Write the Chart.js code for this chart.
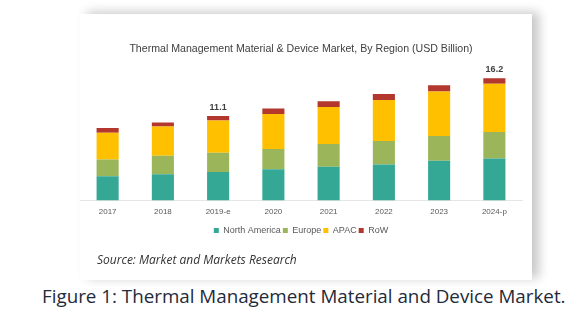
<!DOCTYPE html>
<html>
<head>
<meta charset="utf-8">
<script src="https://cdn.jsdelivr.net/npm/chart.js@4.4.1/dist/chart.umd.min.js"></script>
<style>
    html, body { margin: 0; padding: 0; background: #fff; }
    body { width: 587px; height: 313px; position: relative; overflow: hidden; }
    .card {
        position: absolute; left: 80px; top: 14px; width: 452px; height: 266px;
        background: #fff;
        box-shadow: 7px -2px 10px rgba(0,0,0,0.22);
    }
    .chart-box { position: absolute; left: 0; top: 0; width: 452px; height: 240px; }
    .source {
        position: absolute; left: 17px; top: 237px;
        font-family: "Open Sans", sans-serif; font-style: italic;
        font-size: 12px; color: #333;
    }
    .caption {
        position: absolute; left: 42px; top: 283px;
        font-family: "Open Sans", sans-serif; font-size: 18.8px; color: #1f2a3a;
        white-space: nowrap;
    }
</style>
</head>
<body>
<div class="card">
    <div class="chart-box"><canvas id="marketChart"></canvas></div>
    <div class="source">Source: Market and Markets Research</div>
</div>
<div class="caption">Figure 1: Thermal Management Material and Device Market.</div>

<script>
// ----- data (USD billion) -----
const years = ["2017", "2018", "2019-e", "2020", "2021", "2022", "2023", "2024-p"];
const northAmerica = [3.2, 3.45, 3.75, 4.1, 4.45, 4.75, 5.25, 5.55];
const europe       = [2.2, 2.45, 2.55, 2.7, 3.0, 3.1, 3.25, 3.5];
const apac         = [3.55, 3.85, 4.25, 4.6, 4.9, 5.4, 5.9, 6.35];
const row          = [0.6, 0.55, 0.6, 0.75, 0.75, 0.8, 0.8, 0.75];
// totals printed above two of the bars
const totalLabels  = ["", "", "11.1", "", "", "", "", "16.2"];

const FONT = "'Liberation Sans', Arial, sans-serif";

// draws the printed totals above the stacks
const totalsPlugin = {
    id: "totals",
    afterDatasetsDraw(chart) {
        const ctx = chart.ctx;
        const last = chart.data.datasets.length - 1;
        const meta = chart.getDatasetMeta(last);
        ctx.save();
        ctx.font = "bold 9px " + FONT;
        ctx.fillStyle = "#404040";
        ctx.textAlign = "center";
        ctx.textBaseline = "bottom";
        meta.data.forEach(function (bar, i) {
            if (totalLabels[i]) ctx.fillText(totalLabels[i], bar.x, bar.y - 4);
        });
        ctx.restore();
    }
};

new Chart(document.getElementById("marketChart"), {
    type: "bar",
    data: {
        labels: years,
        datasets: [
            { label: "North America", data: northAmerica, backgroundColor: "#35a895" },
            { label: "Europe", data: europe, backgroundColor: "#9bb65a" },
            { label: "APAC", data: apac, backgroundColor: "#ffc000" },
            { label: "RoW", data: row, backgroundColor: "#b3372c" }
        ]
    },
    options: {
        responsive: true,
        maintainAspectRatio: false,
        animation: false,
        layout: { padding: { left: 0, right: 10, top: 0, bottom: 9 } },
        datasets: { bar: { categoryPercentage: 1, barPercentage: 0.4 } },
        scales: {
            x: {
                stacked: true,
                grid: { display: false, drawTicks: false },
                border: { color: "#e6e6e6" },
                ticks: { color: "#595959", font: { family: FONT, size: 8 }, padding: 7 }
            },
            y: {
                stacked: true, display: false, min: 0, max: 17
            }
        },
        plugins: {
            title: {
                display: true,
                text: "Thermal Management Material & Device Market, By Region (USD Billion)",
                color: "#404040",
                font: { family: FONT, size: 10.6, weight: "normal" },
                padding: { top: 29, bottom: 16 }
            },
            legend: {
                position: "bottom",
                labels: {
                    color: "#595959",
                    font: { family: FONT, size: 9 },
                    usePointStyle: true, pointStyle: "rect",
                    boxWidth: 5, boxHeight: 5, padding: 2
                }
            },
            tooltip: { enabled: false }
        }
    },
    plugins: [totalsPlugin]
});
</script>
</body>
</html>
